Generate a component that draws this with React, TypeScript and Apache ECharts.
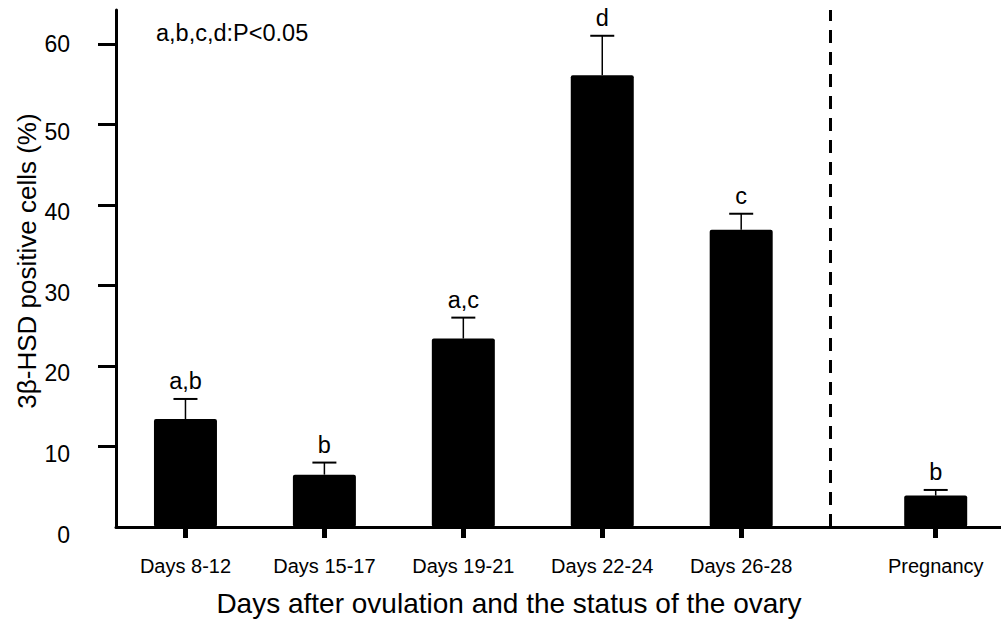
import React, { useEffect, useRef } from "react";
import * as echarts from "echarts";

const categories = ["Days 8-12", "Days 15-17", "Days 19-21", "Days 22-24", "Days 26-28", "Pregnancy"];
const positions = [0, 1, 2, 3, 4, 5.4];
const means = [13.4, 6.5, 23.4, 56.1, 36.9, 3.9];
const errors = [2.5, 1.5, 2.6, 4.9, 2.0, 0.7];
const sigLetters = ["a,b", "b", "a,c", "d", "c", "b"];
const yTicks = [0, 10, 20, 30, 40, 50, 60];
const yTickMarks = [10, 20, 30, 40, 50, 60];
const dividerAt = 4.64;
const yTitle = "3\u03b2-HSD positive cells (%)";
const xTitle = "Days after ovulation and the status of the ovary";
const note = "a,b,c,d:P<0.05";

const FONT = "'Liberation Sans', Arial, sans-serif";

export default function App() {
  const ref = useRef<HTMLDivElement>(null);
  useEffect(() => {
    if (!ref.current) return;
    const chart = echarts.init(ref.current, null, { renderer: "svg" });
    const labelFor = (v: number) => {
      let best = 0;
      positions.forEach((p, i) => {
        if (Math.abs(p - v) < Math.abs(positions[best] - v)) best = i;
      });
      return categories[best];
    };
    chart.setOption({
      animation: false,
      grid: { left: 116, right: 0, top: 10, bottom: 92, containLabel: false, outerBoundsMode: "none" },
      xAxis: {
        type: "value",
        min: -0.5,
        max: 5.87,
        splitLine: { show: false },
        axisLine: { onZero: false, lineStyle: { color: "#000", width: 3 } },
        axisTick: { show: true, inside: false, length: 11, customValues: positions, lineStyle: { color: "#000", width: 5 } },
        axisLabel: {
          customValues: positions,
          formatter: (v: number) => labelFor(v),
          margin: 29,
          color: "#000",
          fontFamily: FONT,
          fontSize: 20,
        },
      },
      yAxis: {
        type: "value",
        min: 0,
        max: 64.2,
        splitLine: { show: false },
        axisLine: { show: true, onZero: false, lineStyle: { color: "#000", width: 3 } },
        axisTick: { show: true, inside: false, length: 18, customValues: yTickMarks, lineStyle: { color: "#000", width: 3 } },
        axisLabel: {
          customValues: yTicks,
          margin: 46,
          formatter: (v: number) => (v >= 60 ? `{t|${v}}` : `{n|${v}}`),
          rich: {
            n: { color: "#000", fontFamily: FONT, fontSize: 23, padding: [15, 0, 0, 0] },
            t: { color: "#000", fontFamily: FONT, fontSize: 23 },
          },
          color: "#000",
          fontFamily: FONT,
          fontSize: 23,
        },
      },
      graphic: [
        {
          type: "text",
          x: 156,
          y: 33,
          style: { text: note, fill: "#000", font: `23.5px ${FONT}`, textAlign: "left", textVerticalAlign: "middle" },
        },
        {
          type: "text",
          x: 509,
          y: 603,
          style: { text: xTitle, fill: "#000", font: `28px ${FONT}`, textAlign: "center", textVerticalAlign: "middle" },
        },
        {
          type: "text",
          x: 27,
          y: 261,
          rotation: Math.PI / 2,
          style: { text: yTitle, fill: "#000", font: `26px ${FONT}`, textAlign: "center", textVerticalAlign: "middle" },
        },
      ],
      series: [
        {
          type: "bar",
          data: positions.map((p, i) => [p, means[i]]),
          barWidth: 63,
          itemStyle: { color: "#000", borderRadius: 2 },
          markLine: {
            silent: true,
            symbol: ["none", "none"],
            label: { show: false },
            lineStyle: { color: "#000", width: 3, type: [13, 9] },
            data: [{ xAxis: dividerAt }],
          },
        },
        {
          type: "custom",
          data: positions.map((p, i) => [p, means[i], errors[i]]),
          renderItem: (params: any, api: any) => {
            const x = api.value(0);
            const m = api.value(1);
            const e = api.value(2);
            const top = api.coord([x, m]);
            const et = api.coord([x, m + e]);
            const half = 12;
            return {
              type: "group",
              children: [
                { type: "line", shape: { x1: top[0], y1: top[1], x2: et[0], y2: et[1] }, style: { stroke: "#000", lineWidth: 1.5 } },
                { type: "line", shape: { x1: et[0] - half, y1: et[1], x2: et[0] + half, y2: et[1] }, style: { stroke: "#000", lineWidth: 2 } },
                {
                  type: "text",
                  x: et[0],
                  y: et[1] - 6,
                  style: {
                    text: sigLetters[params.dataIndex],
                    fill: "#000",
                    font: `23.5px ${FONT}`,
                    textAlign: "center",
                    textVerticalAlign: "bottom",
                  },
                },
              ],
            };
          },
        },
      ],
    });
    return () => chart.dispose();
  }, []);
  return <div ref={ref} style={{ position: "fixed", left: 0, top: 0, width: 1001, height: 619, background: "#fff" }} />;
}
